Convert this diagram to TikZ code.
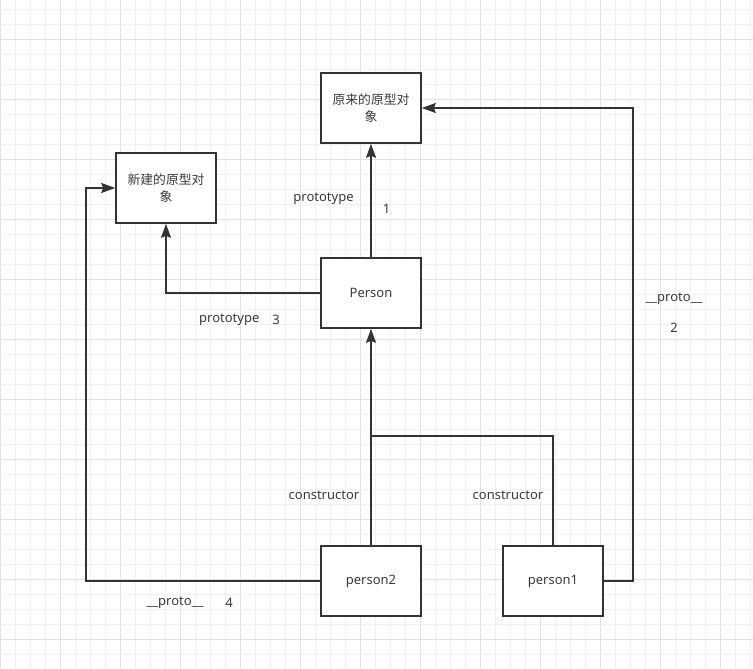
\documentclass[tikz,border=0pt]{standalone}
\usepackage{fontspec}
\setmainfont{Noto Sans}
\newfontfamily\cjk{Noto Sans CJK SC}
\usetikzlibrary{arrows.meta}
\definecolor{ink}{HTML}{333333}
\definecolor{txt}{HTML}{3A3A3A}
\definecolor{gminor}{HTML}{F0F0F0}
\definecolor{gmajor}{HTML}{E2E2E2}
\begin{document}
\begin{tikzpicture}[x=1pt,y=-1pt,
  box/.style={draw=ink,line width=1.6pt,fill=white,minimum width=100pt,minimum height=70pt,inner sep=0pt,text=txt,align=center,font=\fontsize{12.8}{17}\selectfont\cjk},
  lbl/.style={text=txt,font=\fontsize{13}{15}\selectfont,inner sep=0pt},
  conn/.style={draw=ink,line width=1.7pt,-{Stealth[length=14pt,width=10pt,inset=2pt]}},
  plain/.style={draw=ink,line width=1.7pt}]
\useasboundingbox (0,0) rectangle (753,669);
\fill[white] (0,0) rectangle (753,669);
% grid
\foreach \i in {0,...,50}{
  \pgfmathtruncatemacro{\m}{mod(\i,4)}
  \ifnum\m=0 \draw[gmajor,line width=1pt] ({0.7+15*\i},0) -- ({0.7+15*\i},669);
  \else \draw[gminor,line width=1pt] ({0.7+15*\i},0) -- ({0.7+15*\i},669); \fi
}
\foreach \j in {0,...,44}{
  \pgfmathtruncatemacro{\m}{mod(\j+2,4)}
  \ifnum\m=0 \draw[gmajor,line width=1pt] (0,{9.3+15*\j}) -- (753,{9.3+15*\j});
  \else \draw[gminor,line width=1pt] (0,{9.3+15*\j}) -- (753,{9.3+15*\j}); \fi
}
% nodes
\node[box] (orig) at (371,108) {\raisebox{-1.5pt}{原来的原型对}\\\raisebox{-1.5pt}{象}};
\node[box] (newp) at (166,188) {\raisebox{-1.5pt}{新建的原型对}\\\raisebox{-1.5pt}{象}};
\node[box,font=\fontsize{13}{15}\selectfont] (person) at (371,293) {Person};
\node[box,font=\fontsize{13}{15}\selectfont] (p2) at (371,581) {person2};
\node[box,font=\fontsize{13}{15}\selectfont] (p1) at (553,581) {person1};
\coordinate (c2) at (633,108);
\coordinate (c4) at (86,188);
\coordinate (j) at (371,436);
% connectors
\draw[conn] (person) -- (orig);
\draw[conn] (p1.east) -| (c2) -- (orig.east);
\draw[conn] (person.west) -| (newp.south);
\draw[conn] (p2.west) -| (c4) -- (newp.west);
\draw[conn] (p2) -- (person);
\draw[plain] (p1.north) |- (j);
% labels
\node[lbl] (l1) at (323.5,199) {prototype};
\node[lbl] (n1) at (386.5,208.5) {1};
\node[lbl,anchor=west] (l3) at (199,320) {prototype};
\node[lbl] (n3) at (276,320) {3};
\node[lbl] (l5) at (324,495) {constructor};
\node[lbl] (l6) at (508,495) {constructor};
\node[lbl] (l2) at (674,299) {\_\_proto\_\_};
\node[lbl] (n2) at (674,327.5) {2};
\node[lbl] (l4) at (175,603) {\_\_proto\_\_};
\node[lbl] (n4) at (229,603) {4};
\end{tikzpicture}
\end{document}
